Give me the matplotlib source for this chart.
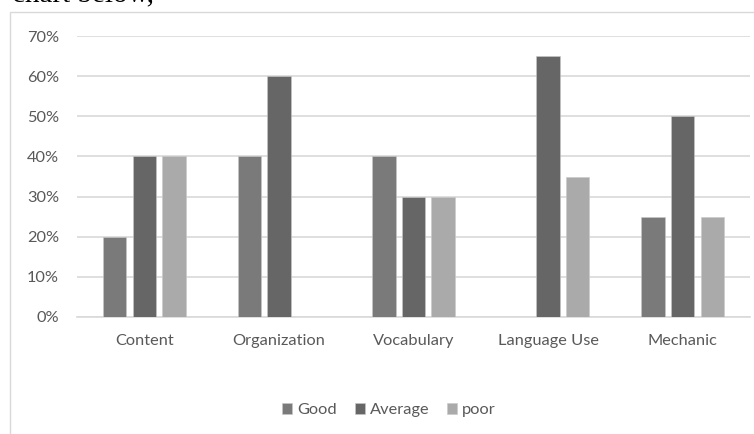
import numpy as np
import matplotlib
matplotlib.use("Agg")
from matplotlib import pyplot as plt
from matplotlib.patches import Rectangle
from matplotlib.ticker import PercentFormatter

# data
categories = ['Content', 'Organization', 'Vocabulary', 'Language Use', 'Mechanic']
good = [20, 40, 40, 0, 25]
average = [40, 60, 30, 65, 50]
poor = [40, 0, 30, 35, 25]
series_names = ['Good', 'Average', 'poor']
colors = ['#7a7a7a', '#666666', '#aaaaaa']

W, H = 754, 434
fig = plt.figure(figsize=(W / 100, H / 100), dpi=100)

# chart frame (cut off on the right and at the bottom)
fig.add_artist(Rectangle((10 / W, -0.05), 1.0, 1 - 12 / H + 0.05,
                         transform=fig.transFigure, fill=False,
                         edgecolor='#d9d9d9', linewidth=1.0))

# the bit of document text above the chart, mostly cut off
fig.text(12 / W, 1 - 1 / H, 'chart below,', family='Liberation Serif',
         fontsize=21, va='baseline', ha='left', color='black')

ax = fig.add_axes([77 / W, 117 / H, (750 - 77) / W, (398 - 117) / H])

x = np.arange(len(categories))
step = 0.22
width = 0.173
for i, (vals, name, c) in enumerate(zip([good, average, poor], series_names, colors)):
    ax.bar(x + (i - 1) * step, vals, width, color=c, label=name,
           edgecolor='#c8c8c8', linewidth=0.4, zorder=3)

ax.set_xlim(-0.5, len(categories) - 0.5)
ax.set_ylim(0, 70)
ax.set_yticks(np.arange(0, 71, 10))
ax.yaxis.set_major_formatter(PercentFormatter(decimals=0))
ax.set_xticks(x)
ax.set_xticklabels(categories)

ax.grid(axis='y', color='#d9d9d9', linewidth=1.2, zorder=0)
for s in ['top', 'right', 'left']:
    ax.spines[s].set_visible(False)
ax.spines['bottom'].set_color('#d9d9d9')
ax.spines['bottom'].set_linewidth(1.2)
ax.tick_params(axis='both', length=0, labelcolor='#595959', labelsize=11.8)
ax.tick_params(axis='x', pad=12)
ax.tick_params(axis='y', pad=13)
for lbl in ax.get_xticklabels() + ax.get_yticklabels():
    lbl.set_family('Lato')

leg = fig.legend(loc='center', bbox_to_anchor=(389 / W, 1 - 410 / H), ncol=3,
                 frameon=False, handlelength=0.6, handleheight=0.7,
                 handletextpad=0.3, columnspacing=1.1,
                 prop={'family': 'Lato', 'size': 11.8})
for t in leg.get_texts():
    t.set_color('#595959')

fig.savefig('out.png', dpi=100)
